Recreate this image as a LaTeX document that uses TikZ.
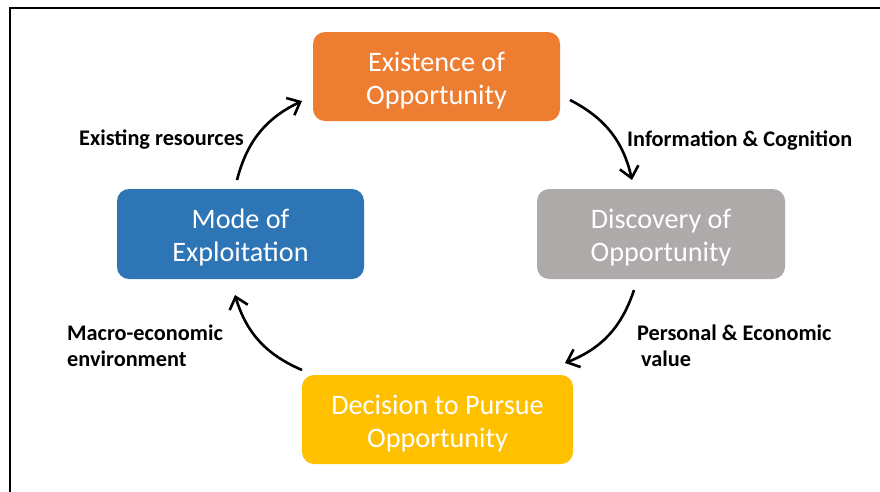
\documentclass[tikz,border=0pt]{standalone}
\usepackage{fontspec}
\setmainfont{Carlito}
\usetikzlibrary{arrows.meta}
\definecolor{orangeC}{HTML}{ED7D31}
\definecolor{grayC}{HTML}{AEAAAA}
\definecolor{yellowC}{HTML}{FFC000}
\definecolor{blueC}{HTML}{2E75B6}
\newcommand{\boxstrut}{\rule{0pt}{27pt}}
\tikzset{
  stagebox/.style={rectangle, rounded corners=12pt, inner sep=0pt, align=center,
    text=white, font=\fontsize{28.2}{33}\selectfont},
  lbl/.style={inner sep=0pt, align=left, anchor=base west,
    font=\bfseries\fontsize{22.3}{26.5}\selectfont},
  cyclearrow/.style={line width=2.6pt, -{Straight Barb[length=11pt,width=19pt,line width=2.6pt]}}
}
\begin{document}
\begin{tikzpicture}[x=1pt,y=-1pt]
\useasboundingbox (0,0) rectangle (880,491);
\begin{scope}
\clip (0,0) rectangle (880,491);
\draw[line width=2pt] (10,7.5) rectangle (900,520);
\end{scope}
% boxes
\node[stagebox, fill=orangeC, minimum width=247pt, minimum height=89pt] (exist) at (436.5,76.5) {\boxstrut Existence of\\Opportunity};
\node[stagebox, fill=grayC, minimum width=248pt, minimum height=90pt] (disc) at (661,234) {\boxstrut Discovery of\\Opportunity};
\node[stagebox, fill=yellowC, minimum width=271pt, minimum height=89pt] (decis) at (437.5,419.5) {\boxstrut Decision to Pursue\\Opportunity};
\node[stagebox, fill=blueC, minimum width=247pt, minimum height=90pt] (mode) at (240.5,234) {\boxstrut Mode of\\Exploitation};
% labels
\node[lbl] (l1) at (79,145.7) {Existing resources};
\node[lbl] (l2) at (627,146.7) {Information \& Cognition};
\node[lbl] (l3) at (67,366.7) {Macro-economic\\environment};
\node[lbl] (l4) at (637,366.7) {Personal \& Economic\\\hspace{4pt}value};
% arrow end points
\coordinate (a1s) at (237,180);
\coordinate (a1e) at (302,101);
\coordinate (a2s) at (570,100);
\coordinate (a2e) at (632,180);
\coordinate (a3s) at (634,290);
\coordinate (a3e) at (565,363);
\coordinate (a4s) at (302,370);
\coordinate (a4e) at (235,295);
\draw[cyclearrow] (a1s) to[bend left=25] (a1e);
\draw[cyclearrow] (a2s) to[bend left=25] (a2e);
\draw[cyclearrow] (a3s) to[bend left=25] (a3e);
\draw[cyclearrow] (a4s) to[bend left=25] (a4e);
\end{tikzpicture}
\end{document}
